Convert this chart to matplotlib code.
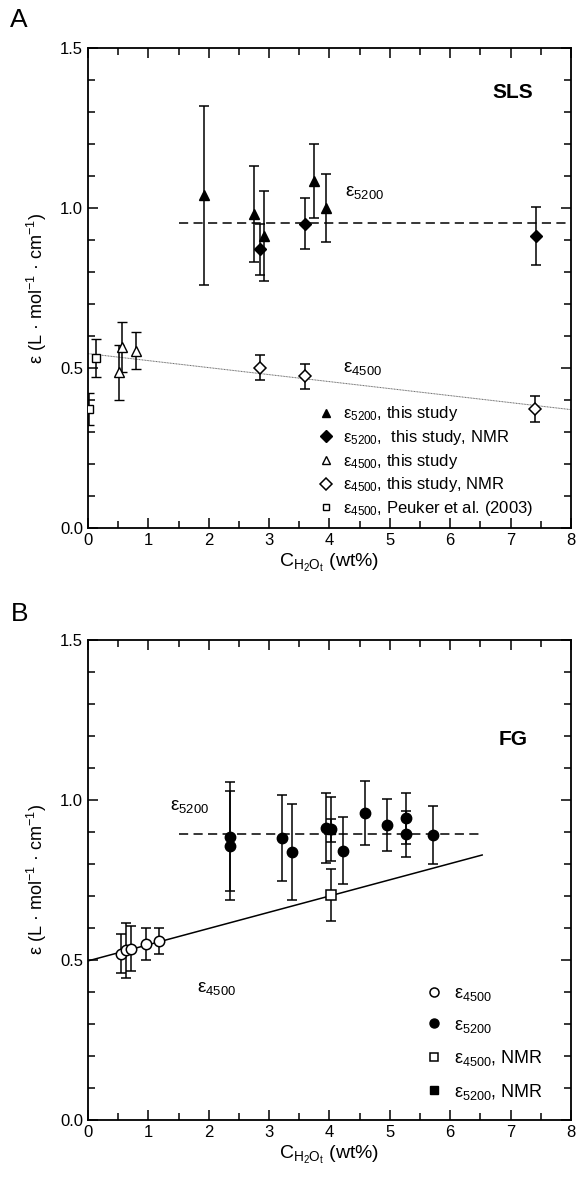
import matplotlib
matplotlib.use('Agg')
import matplotlib.pyplot as plt
from matplotlib.ticker import MultipleLocator
from matplotlib.lines import Line2D

plt.rcParams['font.family'] = ['Liberation Sans', 'DejaVu Sans']
plt.rcParams['mathtext.fontset'] = 'custom'
plt.rcParams['mathtext.rm'] = 'Liberation Sans'
plt.rcParams['mathtext.it'] = 'Liberation Sans'
plt.rcParams['mathtext.bf'] = 'Liberation Sans:bold'

# ---- panel A (SLS) ----
tri_x = [1.92, 2.75, 2.92, 3.75, 3.95]
tri_y = [1.04, 0.98, 0.913, 1.085, 1.00]
tri_err = [0.28, 0.15, 0.14, 0.115, 0.105]
dia_x = [2.85, 3.59, 7.42]
dia_y = [0.871, 0.951, 0.912]
dia_err = [0.08, 0.08, 0.09]
otri_x = [0.52, 0.56, 0.79]
otri_y = [0.486, 0.565, 0.554]
otri_err = [0.085, 0.078, 0.058]
odia_x = [2.85, 3.59, 7.41]
odia_y = [0.501, 0.474, 0.371]
odia_err = [0.04, 0.04, 0.04]
sq_x = [0.02, 0.13]
sq_y = [0.371, 0.532]
sq_err = [0.05, 0.06]
a_mean_x = [1.5, 8.0]
a_mean_y = [0.952, 0.952]
a_fit_x = [0.0, 8.0]
a_fit_y = [0.545, 0.37]

# ---- panel B (FG) ----
oc_x = [0.55, 0.63, 0.72, 0.96, 1.18]
oc_y = [0.52, 0.53, 0.535, 0.55, 0.56]
oc_err = [0.06, 0.085, 0.07, 0.05, 0.04]
fc_x = [2.35, 2.35, 3.22, 3.38, 3.95, 4.03, 4.23, 4.59, 4.96, 5.26, 5.26, 5.71]
fc_y = [0.885, 0.857, 0.882, 0.836, 0.913, 0.908, 0.842, 0.96, 0.922, 0.943, 0.893, 0.891]
fc_err = [0.17, 0.17, 0.135, 0.15, 0.11, 0.10, 0.104, 0.10, 0.08, 0.08, 0.072, 0.09]
nmr45_x, nmr45_y, nmr45_err = [4.03], [0.703], [0.08]
nmr52_x, nmr52_y, nmr52_err = [4.03], [0.905], [0.035]
b_mean_x = [1.51, 6.53]
b_mean_y = [0.893, 0.893]
b_fit_x = [0.0, 6.53]
b_fit_y = [0.497, 0.828]

fig = plt.figure(figsize=(5.79, 11.86), dpi=100)
axA = fig.add_axes([0.152, 0.5548, 0.834, 0.4047])
axB = fig.add_axes([0.152, 0.0557, 0.834, 0.4047])

eb = dict(ecolor='black', elinewidth=1.1, capsize=3.4, capthick=1.1, linestyle='none')

# panel A
axA.plot(a_mean_x, a_mean_y, color='black', lw=1.1, ls=(0, (6, 3.5)), zorder=1)
axA.plot(a_fit_x, a_fit_y, color='0.4', lw=0.7, ls=(0, (1, 0.6)), zorder=1)
axA.errorbar(tri_x, tri_y, yerr=tri_err, marker='^', ms=6.5, mfc='black', mec='black', zorder=3, **eb)
axA.errorbar(dia_x, dia_y, yerr=dia_err, marker='D', ms=6.5, mfc='black', mec='black', zorder=3, **eb)
axA.errorbar(otri_x, otri_y, yerr=otri_err, marker='^', ms=6.5, mfc='white', mec='black', mew=1.0, zorder=3, **eb)
axA.errorbar(odia_x, odia_y, yerr=odia_err, marker='D', ms=6.5, mfc='white', mec='black', mew=1.1, zorder=3, **eb)
axA.errorbar(sq_x, sq_y, yerr=sq_err, marker='s', ms=5.5, mfc='white', mec='black', mew=1.0, zorder=3, **eb)

axA.text(4.25, 1.05, 'ε$_{5200}$', fontsize=13.5, va='center')
axA.text(4.22, 0.50, 'ε$_{4500}$', fontsize=13.5, va='center')
axA.text(7.37, 1.36, 'SLS', fontsize=15, fontweight='bold', ha='right', va='center')

hA = [Line2D([], [], ls='none', marker='^', ms=6, mfc='black', mec='black'),
      Line2D([], [], ls='none', marker='D', ms=6, mfc='black', mec='black'),
      Line2D([], [], ls='none', marker='^', ms=5.5, mfc='white', mec='black'),
      Line2D([], [], ls='none', marker='D', ms=6, mfc='white', mec='black', mew=1.1),
      Line2D([], [], ls='none', marker='s', ms=5, mfc='white', mec='black')]
lA = ['ε$_{5200}$, this study', 'ε$_{5200}$,  this study, NMR', 'ε$_{4500}$, this study',
      'ε$_{4500}$, this study, NMR', 'ε$_{4500}$, Peuker et al. (2003)']
axA.legend(hA, lA, loc='upper left', bbox_to_anchor=(0.458, 0.275), frameon=False,
           fontsize=12, handlelength=1.0, handletextpad=0.5, labelspacing=0.28, borderpad=0)

# panel B
axB.plot(b_mean_x, b_mean_y, color='black', lw=1.1, ls=(0, (6, 3.5)), zorder=1)
axB.plot(b_fit_x, b_fit_y, color='black', lw=1.1, zorder=1)
axB.errorbar(nmr52_x, nmr52_y, yerr=nmr52_err, marker='s', ms=6, mfc='black', mec='black', zorder=2, **eb)
axB.errorbar(fc_x, fc_y, yerr=fc_err, marker='o', ms=7.5, mfc='black', mec='black', zorder=3, **eb)
axB.errorbar(oc_x, oc_y, yerr=oc_err, marker='o', ms=7.5, mfc='white', mec='black', mew=1.1, zorder=3, **eb)
axB.errorbar(nmr45_x, nmr45_y, yerr=nmr45_err, marker='s', ms=6.5, mfc='white', mec='black', mew=1.1, zorder=3, **eb)

axB.text(1.36, 0.98, 'ε$_{5200}$', fontsize=13.5, va='center')
axB.text(1.8, 0.41, 'ε$_{4500}$', fontsize=13.5, va='center')
axB.text(7.28, 1.19, 'FG', fontsize=15, fontweight='bold', ha='right', va='center')

hB = [Line2D([], [], ls='none', marker='o', ms=6.5, mfc='white', mec='black', mew=1.1),
      Line2D([], [], ls='none', marker='o', ms=6.5, mfc='black', mec='black'),
      Line2D([], [], ls='none', marker='s', ms=6, mfc='white', mec='black', mew=1.1),
      Line2D([], [], ls='none', marker='s', ms=6, mfc='black', mec='black')]
lB = ['ε$_{4500}$', 'ε$_{5200}$', 'ε$_{4500}$, NMR', 'ε$_{5200}$, NMR']
axB.legend(hB, lB, loc='upper left', bbox_to_anchor=(0.68, 0.30), frameon=False,
           fontsize=13, handlelength=1.0, handletextpad=0.6, labelspacing=0.75, borderpad=0)

for ax in (axA, axB):
    ax.set_xlim(0, 8)
    ax.set_ylim(0, 1.5)
    ax.xaxis.set_major_locator(MultipleLocator(1))
    ax.xaxis.set_minor_locator(MultipleLocator(0.5))
    ax.yaxis.set_major_locator(MultipleLocator(0.5))
    ax.yaxis.set_minor_locator(MultipleLocator(0.1))
    ax.tick_params(which='both', direction='in', top=True, right=True, width=1.1, labelsize=12)
    ax.tick_params(which='major', length=7)
    ax.tick_params(which='minor', length=5)
    ax.yaxis.set_major_formatter(matplotlib.ticker.FormatStrFormatter('%.1f'))
    for s in ax.spines.values():
        s.set_linewidth(1.3)
    ax.set_xlabel(r'C$_{\mathregular{H_2O_t}}$ (wt%)', fontsize=14, labelpad=3)
    ax.set_ylabel('ε (L · mol$^{-1}$ · cm$^{-1}$)', fontsize=13, labelpad=8)

fig.text(0.018, 0.983, 'A', fontsize=19, va='center')
fig.text(0.018, 0.482, 'B', fontsize=19, va='center')

fig.savefig('out.png', dpi=100)
